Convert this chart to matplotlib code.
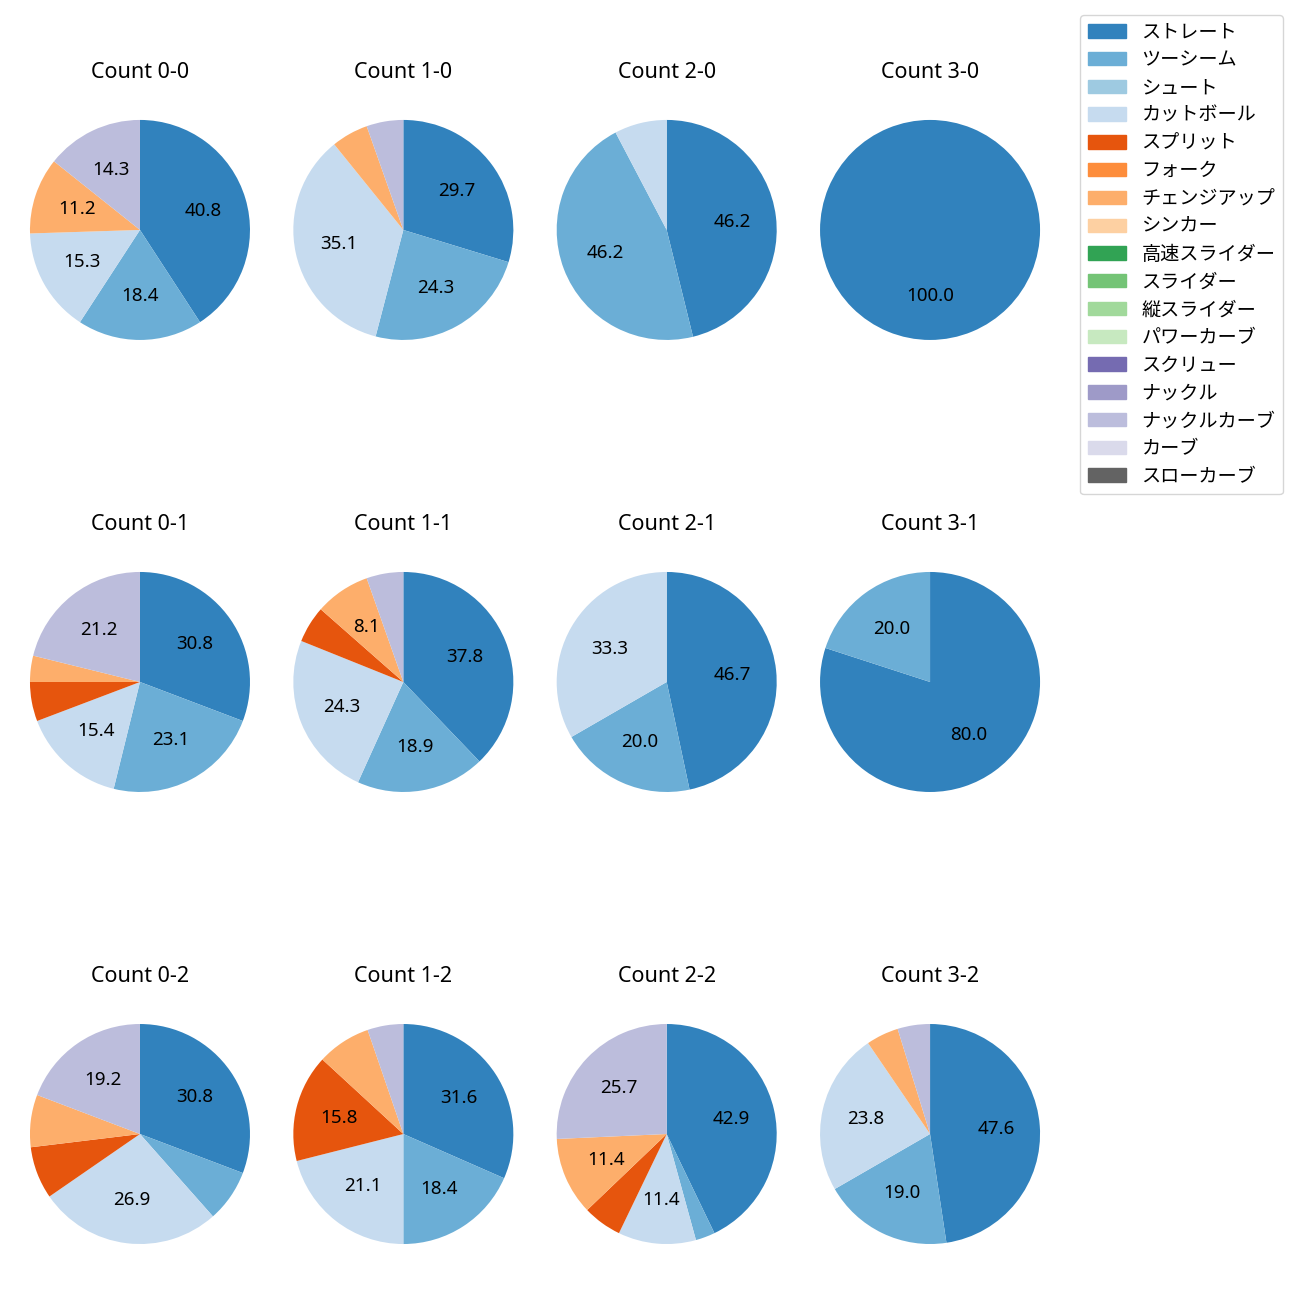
import matplotlib
matplotlib.use("Agg")
import matplotlib.pyplot as plt
import matplotlib.patches as mpatches

plt.rcParams['font.family'] = ['Noto Sans', 'Noto Sans CJK JP', 'DejaVu Sans']

# pitch types in legend order
pitch_types = ['ストレート', 'ツーシーム', 'シュート', 'カットボール', 'スプリット',
               'フォーク', 'チェンジアップ', 'シンカー', '高速スライダー', 'スライダー',
               '縦スライダー', 'パワーカーブ', 'スクリュー', 'ナックル', 'ナックルカーブ',
               'カーブ', 'スローカーブ']

# pitch counts per ball-strike count
c_0_0 = {'ストレート': 40, 'ツーシーム': 18, 'カットボール': 15, 'チェンジアップ': 11, 'ナックルカーブ': 14}
c_1_0 = {'ストレート': 11, 'ツーシーム': 9, 'カットボール': 13, 'チェンジアップ': 2, 'ナックルカーブ': 2}
c_2_0 = {'ストレート': 6, 'ツーシーム': 6, 'カットボール': 1}
c_3_0 = {'ストレート': 1}
c_0_1 = {'ストレート': 16, 'ツーシーム': 12, 'カットボール': 8, 'スプリット': 3, 'チェンジアップ': 2, 'ナックルカーブ': 11}
c_1_1 = {'ストレート': 14, 'ツーシーム': 7, 'カットボール': 9, 'スプリット': 2, 'チェンジアップ': 3, 'ナックルカーブ': 2}
c_2_1 = {'ストレート': 7, 'ツーシーム': 3, 'カットボール': 5}
c_3_1 = {'ストレート': 4, 'ツーシーム': 1}
c_0_2 = {'ストレート': 8, 'ツーシーム': 2, 'カットボール': 7, 'スプリット': 2, 'チェンジアップ': 2, 'ナックルカーブ': 5}
c_1_2 = {'ストレート': 12, 'ツーシーム': 7, 'カットボール': 8, 'スプリット': 6, 'チェンジアップ': 3, 'ナックルカーブ': 2}
c_2_2 = {'ストレート': 15, 'ツーシーム': 1, 'カットボール': 4, 'スプリット': 2, 'チェンジアップ': 4, 'ナックルカーブ': 9}
c_3_2 = {'ストレート': 10, 'ツーシーム': 4, 'カットボール': 5, 'チェンジアップ': 1, 'ナックルカーブ': 1}

grid = [
    [('0-0', c_0_0), ('1-0', c_1_0), ('2-0', c_2_0), ('3-0', c_3_0)],
    [('0-1', c_0_1), ('1-1', c_1_1), ('2-1', c_2_1), ('3-1', c_3_1)],
    [('0-2', c_0_2), ('1-2', c_1_2), ('2-2', c_2_2), ('3-2', c_3_2)],
]

cmap = plt.get_cmap('tab20c')
colors = {p: cmap(i) for i, p in enumerate(pitch_types)}


def pct_label(pct):
    return f'{pct:.1f}' if pct >= 8 else ''


fig, axes = plt.subplots(3, 4, figsize=(13, 13), dpi=100)
fig.subplots_adjust(left=0.0019, right=0.8212, bottom=0.0219, top=0.9289,
                    wspace=-0.0424, hspace=0.6436)

for r, row in enumerate(grid):
    for c, (name, data) in enumerate(row):
        ax = axes[r][c]
        keys = [p for p in pitch_types if p in data]
        vals = [data[p] for p in keys]
        ax.pie(vals, colors=[colors[p] for p in keys], startangle=90,
               counterclock=False, autopct=pct_label,
               textprops={'fontsize': 13.5})
        ax.set_title(f'Count {name}', fontsize=15.5, pad=10.5)

handles = [mpatches.Patch(color=colors[p], label=p) for p in pitch_types]
fig.legend(handles=handles, loc='upper right', bbox_to_anchor=(0.987, 0.9885),
           borderaxespad=0, fontsize=13.8, labelspacing=0.405)

fig.savefig('out.png')
